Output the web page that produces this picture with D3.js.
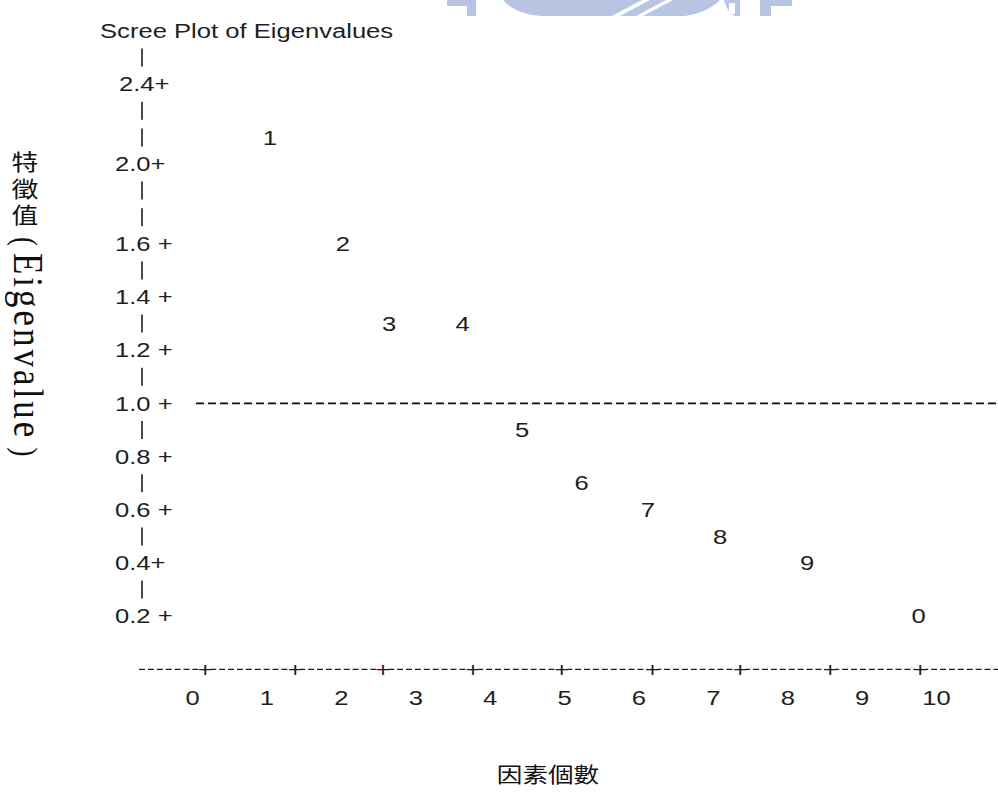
<!DOCTYPE html>
<html>
<head>
<meta charset="utf-8">
<script src="https://cdn.jsdelivr.net/npm/d3@7"></script>
<style>
  html, body { margin: 0; padding: 0; background: #fff; }
  svg { display: block; }
  .ascii { font-family: "Liberation Sans", Arial, sans-serif; font-size: 21px; fill: #1e1e1e; }
  .cjk { font-family: "Noto Sans CJK TC", "Liberation Serif", serif; font-size: 21px; fill: #111; }
  .latin { font-family: "Liberation Serif", "Times New Roman", serif; fill: #111; }
</style>
</head>
<body>
<script>
// ---------- data ----------
const chartTitle = "Scree Plot of Eigenvalues";
const yAxisTitleCJK = "特徵值";
const yAxisTitleLatin = "Eigenvalue";
const xAxisTitle = "因素個數";

// point symbols (factor number, last digit) and their plotted positions
const pointLabels = ["1", "2", "3", "4", "5", "6", "7", "8", "9", "0"];
const pointX      = [1.04, 2.02, 2.64, 3.63, 4.43, 5.23, 6.12, 7.09, 8.26, 9.76];
const eigenvalues = [2.13, 1.60, 1.30, 1.30, 0.90, 0.70, 0.60, 0.50, 0.40, 0.20];

// y tick values and their printed labels
const yTickValues = [2.4, 2.0, 1.6, 1.4, 1.2, 1.0, 0.8, 0.6, 0.4, 0.2];
const yTickLabels = ["2.4+", "2.0+", "1.6 +", "1.4 +", "1.2 +", "1.0 +", "0.8 +", "0.6 +", "0.4+", "0.2 +"];

// x tick labels and the "+" marks along the text axis
const xTickValues = [0, 1, 2, 3, 4, 5, 6, 7, 8, 9, 10];
const xTickLabels = ["0", "1", "2", "3", "4", "5", "6", "7", "8", "9", "10"];
const xPlusMarks  = [0.17, 1.38, 2.56, 3.77, 4.96, 6.18, 7.36, 8.57, 9.78];

const referenceLine = 1.0;

// ---------- layout ----------
const W = 998, H = 799;
const SX = 1.22; // horizontal stretch of the whole picture

const svg = d3.select("body").append("svg").attr("width", W).attr("height", H);

// piecewise scale reproducing the printed rows of the text plot
const y = d3.scaleLinear().domain([2.4, 1.6, 0]).range([84.2, 243.8, 669.4]);
const rowH = 26.6;
const x = d3.scaleLinear().domain([0, 10]).range([192.6, 936.6]);

function stretchedText(g, cls, px, py, txt, anchor) {
  return g.append("text")
    .attr("class", cls)
    .attr("transform", `translate(${px},${py}) scale(${SX},1)`)
    .attr("text-anchor", anchor || "start")
    .attr("dominant-baseline", "central")
    .text(txt);
}

// ---------- watermark (faint logo cut at top) ----------
const wm = svg.append("g").attr("fill", "#b7c5e3");
wm.append("path").attr("d", "M447,0 H476 V16 H467 V6 H447 Z");
wm.append("path").attr("d", "M503,0 H720 C712,8 700,14 685,16 H540 C522,14 510,8 503,0 Z");
wm.append("path").attr("d", "M724,0 H740 V16 H735 C730,14 726,8 724,0 Z");
wm.append("path").attr("d", "M760,0 H792 V6 H771 V16 H760 Z");
const wmWhite = svg.append("g").attr("fill", "#fff");
wmWhite.append("path").attr("d", "M612,16 L642,0 L650,0 L620,16 Z");
wmWhite.append("path").attr("d", "M636,16 L666,0 L673,0 L643,16 Z");
wmWhite.append("path").attr("d", "M729,3 H735 V14 H729 Z");

// ---------- title ----------
stretchedText(svg, "ascii", 100, 31, chartTitle);

// ---------- y axis (printed style) ----------
const yAxisG = svg.append("g");
const pipeX = 142;
const pipeVals = [];
{
  const top = y(yTickValues[0]) - rowH;
  pipeVals.push(top);
  for (let i = 0; i < yTickValues.length - 1; i++) {
    const a = y(yTickValues[i]), b = y(yTickValues[i + 1]);
    const n = Math.round((b - a) / rowH) - 1;
    for (let k = 1; k <= n; k++) pipeVals.push(a + (b - a) * k / (n + 1));
  }
}
yAxisG.selectAll("line.pipe").data(pipeVals).join("line")
  .attr("class", "pipe")
  .attr("x1", pipeX).attr("x2", pipeX)
  .attr("y1", d => d - 9).attr("y2", d => d + 9)
  .attr("stroke", "#1e1e1e").attr("stroke-width", 1.6);

yTickValues.forEach((v, i) => {
  stretchedText(yAxisG, "ascii", i === 0 ? 119 : 115, y(v), yTickLabels[i]);
});

// ---------- x axis (printed style) ----------
const axisY = y(0);
const xAxisG = svg.append("g");
xAxisG.append("line")
  .attr("x1", 139).attr("x2", W)
  .attr("y1", axisY).attr("y2", axisY)
  .attr("stroke", "#1e1e1e").attr("stroke-width", 1.4)
  .attr("stroke-dasharray", "6,2.9");
xPlusMarks.forEach(v => {
  xAxisG.append("rect").attr("x", x(v) - 5).attr("y", axisY - 6).attr("width", 10).attr("height", 12).attr("fill", "#fff");
  stretchedText(xAxisG, "ascii", x(v), axisY, "+", "middle");
});
xTickValues.forEach((v, i) => {
  stretchedText(xAxisG, "ascii", x(v), axisY + 28, xTickLabels[i], "middle");
});

// ---------- reference line at eigenvalue 1 ----------
svg.append("line")
  .attr("x1", 196).attr("x2", W)
  .attr("y1", y(referenceLine)).attr("y2", y(referenceLine))
  .attr("stroke", "#111").attr("stroke-width", 1.8)
  .attr("stroke-dasharray", "8,4");

// ---------- points ----------
const ptG = svg.append("g");
eigenvalues.forEach((v, i) => {
  stretchedText(ptG, "ascii", x(pointX[i]), y(v), pointLabels[i], "middle");
});

// ---------- axis titles ----------
svg.append("text")
  .attr("class", "cjk")
  .attr("transform", `translate(25,151) scale(${SX},1)`)
  .attr("x", 0).attr("y", 0)
  .style("font-size", "22px")
  .style("letter-spacing", "4.5px")
  .style("writing-mode", "vertical-rl")
  .text(yAxisTitleCJK);

const yl = svg.append("text")
  .attr("class", "latin")
  .attr("transform", `translate(14,237) scale(${SX},1) rotate(90)`)
  .attr("x", 0).attr("y", 0);
yl.append("tspan").style("font-size", "27px").text("(");
yl.append("tspan").attr("dx", 7).style("font-size", "35px").style("letter-spacing", "3px").text(yAxisTitleLatin);
yl.append("tspan").attr("dx", 7).style("font-size", "27px").text(")");

svg.append("text")
  .attr("class", "cjk")
  .attr("transform", `translate(548,782) scale(${SX},1)`)
  .attr("text-anchor", "middle")
  .text(xAxisTitle);
</script>
</body>
</html>
